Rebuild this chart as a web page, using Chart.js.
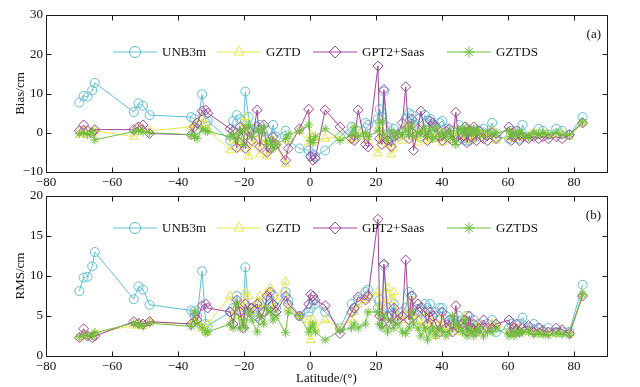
<!DOCTYPE html>
<html>
<head>
<meta charset="utf-8">
<script src="https://cdn.jsdelivr.net/npm/chart.js@4/dist/chart.umd.min.js"></script>
<style>
  html, body { margin: 0; padding: 0; background: #fff; }
  #wrap { position: relative; width: 640px; height: 387px; }
  canvas { position: absolute; left: 0; }
  #biasCanvas { top: 0; }
  #rmsCanvas { top: 180px; }
</style>
</head>
<body>
<div id="wrap">
  <canvas id="biasCanvas" width="640" height="192"></canvas>
  <canvas id="rmsCanvas" width="640" height="207"></canvas>
</div>
<script>
// ── data ──────────────────────────────────────────────────────────────────────
const latitudes = [
  -69.9, -68.6, -67.4, -66.0, -65.2,
  -53.4, -52.0, -50.6, -48.6,
  -36.0, -35.0, -34.2, -32.7, -31.6, -31.0,
  -24.2, -23.3, -22.2, -21.2, -20.2, -19.6, -18.6, -17.6, -16.0, -15.2, -14.0, -13.0, -12.0, -11.2, -10.3,
  -7.4, -6.6, -3.2, -0.4, 0.2, 0.9, 1.6,
  4.6, 9.1, 12.6, 13.4, 14.6, 16.8, 17.6,
  20.6, 21.1, 21.8, 22.4, 23.5, 24.6, 25.4, 26.6, 28.0, 29.0, 30.0,
  30.8, 31.4, 32.7, 33.6, 34.8, 35.6, 36.4, 37.2, 38.1, 39.3, 40.1, 41.2, 42.2, 43.2, 44.2, 45.0,
  46.2, 47.0, 47.6, 48.3, 49.0, 49.6, 50.4, 51.2, 52.6, 53.8, 55.2, 56.4,
  60.3, 61.0, 61.8, 62.6, 63.5, 64.4, 66.2, 67.8, 69.3, 70.6, 72.2, 74.6, 76.4, 78.6,
  82.6
];

const biasUNB3m = [
  7.7, 9.4, 9.2, 10.8, 12.7,
  5.3, 7.5, 6.9, 4.5,
  4.0, 3.5, 1.0, 9.8, 2.5, 3.0,
  -2.0, 3.0, 4.5, 3.5, 1.0, 10.5, 4.0, 0.5, 1.5, 2.0, -1.0, 0.5, -3.0, 2.0, -1.0,
  0.5, -2.0, -4.0, -4.5, -6.0, -5.5, -6.0,
  -4.5, -1.0, 1.5, -0.5, 0.5, 2.5, 2.0,
  3.5, 6.0, 4.0, 10.5, 1.5, -2.0, 1.0, -1.0, 0.5, 3.5, 5.0,
  4.5, 2.0, 3.5, -1.0, 4.5, 3.0, 3.5, 2.0, -0.5, 2.5, 3.0, 1.0, -1.5, 0.5, -1.0, 2.0,
  -1.5, -2.0, 1.0, -2.0, -1.5, 0.5, -1.0, 0.5, 1.0, -0.5, 2.5, -1.0,
  -1.5, 0.5, -1.0, -0.5, -1.5, 2.0, -1.0, -0.5, 1.0, 0.5, -0.5, 1.0, 0.5, -0.5,
  4.0
];
const biasGZTD = [
  -0.5, 0.5, -0.5, 0.0, 0.5,
  -1.0, 1.5, 0.5, 0.5,
  1.5, 2.0, 2.5, 3.5, 2.0, 1.0,
  -4.5, -2.0, -1.0, -4.0, 2.5, 4.0, -6.0, -3.0, -2.0, -5.5, -1.5, -6.0, -4.0, -2.0, -3.0,
  -8.0, -2.0, 0.5, -2.5, -0.5, -1.0, -2.0,
  -1.5, -1.0, -2.0, -1.5, 0.5, -1.0, -2.0,
  -5.2, 2.0, -2.0, -1.0, -3.0, -5.5, -4.0, -0.5, -2.0, 1.5, 2.0,
  -1.0, 0.5, -2.5, 1.0, -2.0, 0.5, -1.5, -0.5, -1.5, 0.0, -2.5, -0.5, -1.0, -2.0, 0.5, -1.0,
  -0.5, -1.5, 1.5, -1.0, -2.0, 0.5, -1.0, 0.0, -0.5, -1.0, 0.5, -2.0,
  -1.0, 0.0, -1.5, -1.0, -0.5, -1.0, -1.0, 0.0, -0.5, 0.0, -0.5, -0.5, 0.0, -1.0,
  2.5
];
const biasGPT2 = [
  0.5, 2.0, 0.5, 0.0, 0.8,
  0.8, 1.5, 2.0, -0.2,
  -0.5, 1.5, 2.5, 5.5, 5.8, 5.0,
  1.0, 0.5, -3.8, 1.5, -1.0, -4.0, 0.5, -2.0, 5.8, -3.5, 2.0, -5.0, -4.0, -1.0, -3.0,
  -7.0, -4.0, 1.0, 6.0, -6.0, -7.0, -6.5,
  5.8, 1.5, -1.5, -2.0, 5.8, -3.0, -3.6,
  17.0, -1.5, -3.0, 11.0, -2.0, -3.5, -1.0, -0.5, 2.5, 11.7, -1.5,
  3.5, -4.5, 1.0, 5.5, 0.5, -2.0, 3.0, 2.5, 1.5, -1.0, -2.0, 0.5, 1.0, -2.0, 5.2, -2.0,
  -1.0, 1.5, -2.5, 0.5, -1.0, 1.5, -2.0, 0.5, -1.5, -2.0, 0.0, -1.5,
  1.5, -2.0, -1.0, 0.5, -2.0, -1.0, -1.5, -1.0, -1.5, -1.0, -1.5, -1.0, -1.5, -0.5,
  2.5
];
const biasGZTDS = [
  -0.2, 0.0, -0.5, 0.3, -1.8,
  0.3, 0.5, 0.2, 0.0,
  -0.5, -1.0, -1.5, 1.0, 0.5, 0.3,
  -1.0, -0.5, -1.5, 0.5, -3.0, 1.0, 2.0, -1.0, 1.0, 0.0, 1.5, -3.0, -2.0, -4.0, -3.0,
  -1.5, -0.5, 0.5, 2.0, -2.0, -2.5, -1.0,
  1.0, -2.0, -0.5, 1.5, -1.0, 0.0, -1.0,
  0.5, 2.5, 3.0, -0.5, -2.0, 0.5, -1.0, 0.0, -0.5, 1.0, -0.5,
  2.0, -1.0, 0.0, -0.5, 1.0, -1.0, 0.5, -1.5, 1.5, -1.0, 0.0, -1.0, 0.5, -1.5, -3.0, 0.5,
  1.0, -0.5, 1.0, 0.5, -0.5, 1.0, 0.0, 0.5, -1.0, 0.5, -0.5, 0.0,
  0.5, -1.0, 0.0, -0.5, 0.5, -0.5, -1.0, 0.0, -0.5, 0.0, -0.5, 0.0, -0.5, -0.5,
  2.7
];

const rmsUNB3m = [
  8.1, 9.8, 9.9, 11.2, 13.0,
  7.1, 8.7, 8.3, 6.4,
  5.7, 5.6, 5.0, 10.6, 4.0, 3.8,
  5.5, 6.0, 7.5, 5.5, 5.0, 11.1, 6.0, 5.5, 5.0, 6.5, 5.5, 7.0, 6.5, 7.5, 6.0,
  8.0, 7.0, 5.0, 5.5, 6.0, 7.0, 6.5,
  5.5, 3.5, 6.5, 6.0, 7.0, 8.0, 8.3,
  6.0, 7.0, 5.5, 11.3, 6.0, 5.0, 6.5, 5.0, 5.5, 6.0, 8.0,
  7.5, 6.0, 5.5, 4.5, 6.5, 6.0, 6.5, 5.0, 5.5, 6.0, 6.0, 5.0, 4.0, 4.5, 4.0, 5.0,
  4.5, 3.5, 5.0, 4.0, 3.5, 4.5, 3.5, 4.0, 3.5, 4.0, 4.5, 3.0,
  3.5, 4.0, 3.5, 3.0, 4.0, 4.8, 3.5, 4.0, 3.5, 3.0, 3.5, 3.0, 3.0, 3.0,
  8.9
];
const rmsGZTD = [
  2.4, 2.8, 2.5, 2.6, 2.9,
  3.8, 4.0, 3.8, 4.2,
  4.0, 4.5, 4.5, 3.5, 3.0, 4.0,
  7.5, 5.0, 6.0, 6.5, 4.5, 8.0, 7.5, 5.5, 6.5, 7.5, 5.5, 8.0, 8.5, 6.0, 7.0,
  9.3, 6.0, 5.0, 4.5, 2.0, 4.5, 3.5,
  4.5, 3.5, 4.5, 5.5, 6.5, 7.0, 7.5,
  8.0, 6.5, 5.0, 6.5, 8.5, 7.0, 8.0, 5.0, 4.5, 5.0, 6.0,
  7.0, 5.0, 4.5, 3.5, 5.5, 4.0, 4.5, 3.5, 2.5, 4.5, 4.0, 3.0, 3.5, 4.0, 3.5, 3.0,
  4.0, 5.0, 3.0, 3.5, 4.0, 3.0, 3.5, 4.0, 3.0, 3.5, 4.0, 4.0,
  3.0, 2.8, 3.5, 3.0, 3.5, 3.0, 3.2, 3.0, 3.0, 2.8, 3.0, 2.8, 3.0, 2.8,
  7.8
];
const rmsGPT2 = [
  2.3, 3.4, 2.5, 2.3, 2.5,
  4.3, 4.1, 4.0, 4.3,
  4.0, 5.0, 4.5, 6.3, 6.5, 6.0,
  5.5, 4.0, 7.0, 5.5, 3.5, 6.5, 5.5, 6.0, 6.5, 4.5, 5.5, 7.5, 8.0, 6.5, 5.5,
  7.5, 6.5, 5.0, 6.5, 7.7, 7.5, 7.0,
  6.3, 2.8, 5.5, 6.0, 7.4, 7.0, 7.5,
  17.1, 5.0, 4.0, 11.5, 5.0, 4.0, 6.0, 4.5, 5.0, 12.0, 4.5,
  7.5, 5.0, 6.5, 6.0, 5.5, 4.0, 5.5, 5.0, 4.0, 3.0, 5.5, 3.5, 4.5, 3.0, 6.3, 3.5,
  4.0, 4.5, 3.0, 5.0, 3.5, 4.0, 3.0, 3.5, 4.5, 3.5, 3.5, 4.0,
  4.5, 3.0, 3.5, 4.0, 3.0, 3.5, 3.8, 3.0, 3.5, 3.2, 3.0, 3.5, 3.3, 2.8,
  7.5
];
const rmsGZTDS = [
  2.4, 2.5, 2.6, 2.5, 2.9,
  4.1, 3.9, 3.7, 4.1,
  3.7, 5.5, 4.0, 3.5, 2.9, 3.0,
  4.0, 3.5, 6.5, 3.5, 4.5, 3.5, 5.5, 4.5, 3.0, 5.0, 4.0, 6.0, 5.5, 4.5, 5.0,
  2.9, 5.5, 5.0, 3.0, 3.5, 4.0, 3.0,
  2.0, 3.2, 3.5, 4.0, 3.5, 4.0, 5.5,
  5.5, 4.0, 3.5, 5.0, 3.0, 4.5, 3.5, 4.0, 3.0, 2.8, 3.5,
  5.5, 4.0, 3.5, 2.5, 3.5, 2.0, 3.0, 3.5, 2.5, 3.5, 3.0, 2.5, 3.0, 5.0, 4.0, 3.5,
  3.0, 4.5, 2.5, 3.5, 3.0, 2.5, 3.0, 3.5, 2.5, 3.0, 3.0, 3.5,
  2.5, 3.0, 2.5, 3.0, 2.8, 3.0, 3.0, 2.7, 2.8, 2.7, 2.6, 2.8, 2.7, 2.6,
  7.7
];

const seriesNames = ['UNB3m', 'GZTD', 'GPT2+Saas', 'GZTDS'];
const latTicks  = [-80, -60, -40, -20, 0, 20, 40, 60, 80];
const biasTicks = [-10, 0, 10, 20, 30];
const rmsTicks  = [0, 5, 10, 15, 20];

// ── styling ───────────────────────────────────────────────────────────────────
const FONT = 'Liberation Serif';
const styles = [
  { color: '#5ebfd6', point: 'circle',   radius: 4.5 },
  { color: '#e6e64c', point: 'triangle', radius: 5 },
  { color: '#a1449b', point: 'rectRot',  radius: 5 },
  { color: '#6cbf3a', point: 'star',     radius: 4.5 },
];
const minus = v => String(v).replace('-', '\u2212');

function makeDatasets(values) {
  return values.map((vals, i) => ({
    label: seriesNames[i],
    data: latitudes.map((lat, k) => ({ x: lat, y: vals[k] })),
    borderColor: styles[i].color,
    backgroundColor: 'rgba(0,0,0,0)',
    borderWidth: 1,
    pointStyle: styles[i].point,
    pointRadius: styles[i].radius,
    pointBorderWidth: 1,
    pointBackgroundColor: 'rgba(0,0,0,0)',
    tension: 0,
    order: 3 - i,       // green stars end up on top
  }));
}

// box frame with inward ticks on all four sides, legend inside, panel tag
const framePlugin = {
  id: 'frame',
  afterDraw(chart, args, opts) {
    const { ctx, chartArea: a, scales: { x, y } } = chart;
    const L = Math.round(a.left) + 0.5, R = Math.round(a.right) + 0.5;
    const T = Math.round(a.top) + 0.5,  B = Math.round(a.bottom) + 0.5;
    const tl = 5;
    ctx.save();
    ctx.strokeStyle = '#1a1a1a';
    ctx.lineWidth = 1;
    ctx.beginPath();
    ctx.rect(L, T, R - L, B - T);
    x.ticks.forEach(t => {
      const px = Math.round(x.getPixelForValue(t.value)) + 0.5;
      ctx.moveTo(px, B); ctx.lineTo(px, B - tl);
      ctx.moveTo(px, T); ctx.lineTo(px, T + tl);
    });
    y.ticks.forEach(t => {
      const py = Math.round(y.getPixelForValue(t.value)) + 0.5;
      ctx.moveTo(L, py); ctx.lineTo(L + tl, py);
      ctx.moveTo(R, py); ctx.lineTo(R - tl, py);
    });
    ctx.stroke();

    // legend
    const ly = a.top + opts.legendY;
    const starts = [67, 171, 267, 401];
    ctx.font = `13px "${FONT}"`;
    ctx.textBaseline = 'middle';
    ctx.textAlign = 'left';
    seriesNames.forEach((name, i) => {
      const x0 = a.left + starts[i], x1 = x0 + 44;
      ctx.strokeStyle = styles[i].color;
      ctx.fillStyle = 'rgba(0,0,0,0)';
      ctx.lineWidth = 1;
      ctx.beginPath();
      ctx.moveTo(x0, ly); ctx.lineTo(x1, ly);
      ctx.stroke();
      Chart.helpers.drawPoint(ctx, {
        pointStyle: styles[i].point, radius: styles[i].radius + 1, rotation: 0, borderWidth: 1
      }, (x0 + x1) / 2, ly);
      ctx.fillStyle = '#111';
      ctx.fillText(name, x1 + 5, ly + 1);
    });

    // panel tag
    ctx.fillStyle = '#111';
    ctx.textAlign = 'right';
    ctx.fillText(opts.tag, a.right - 6, a.top + 20);
    ctx.restore();
  }
};

function makeChart(id, values, yMin, yMax, yTicks, yTitle, tag, padTop, xAxisH, showXTitle, legendY) {
  return new Chart(document.getElementById(id), {
    type: 'line',
    data: { datasets: makeDatasets(values) },
    options: {
      responsive: false,
      animation: false,
      layout: { padding: { top: padTop, right: 33, left: 0, bottom: 0 } },
      plugins: {
        legend: { display: false },
        tooltip: { enabled: false },
        frame: { tag, legendY },
      },
      scales: {
        x: {
          type: 'linear',
          min: -80, max: 90,
          afterBuildTicks: s => { s.ticks = latTicks.map(v => ({ value: v })); },
          afterFit: s => { s.height = xAxisH; },
          grid: { display: false, drawTicks: false },
          border: { display: false },
          ticks: { color: '#111', font: { family: FONT, size: 13 }, padding: 3, callback: minus, maxRotation: 0 },
          title: {
            display: showXTitle, text: 'Latitude/(\u00b0)', color: '#111',
            font: { family: FONT, size: 13 }, padding: { top: 0, bottom: 1 }
          },
        },
        y: {
          min: yMin, max: yMax,
          afterBuildTicks: s => { s.ticks = yTicks.map(v => ({ value: v })); },
          afterFit: s => { s.width = 46; },
          grid: { display: false, drawTicks: false },
          border: { display: false },
          ticks: { color: '#111', font: { family: FONT, size: 13 }, padding: 3, callback: minus },
          title: {
            display: true, text: yTitle, color: '#111',
            font: { family: FONT, size: 13 }, padding: { top: 13, bottom: 0 }
          },
        },
      },
    },
    plugins: [framePlugin],
  });
}

makeChart('biasCanvas', [biasUNB3m, biasGZTD, biasGPT2, biasGZTDS],
  -10, 30, biasTicks, 'Bias/cm', '(a)', 15, 20, false, 37);
makeChart('rmsCanvas', [rmsUNB3m, rmsGZTD, rmsGPT2, rmsGZTDS],
  0, 20, rmsTicks, 'RMS/cm', '(b)', 16, 31, true, 32);
</script>
</body>
</html>
